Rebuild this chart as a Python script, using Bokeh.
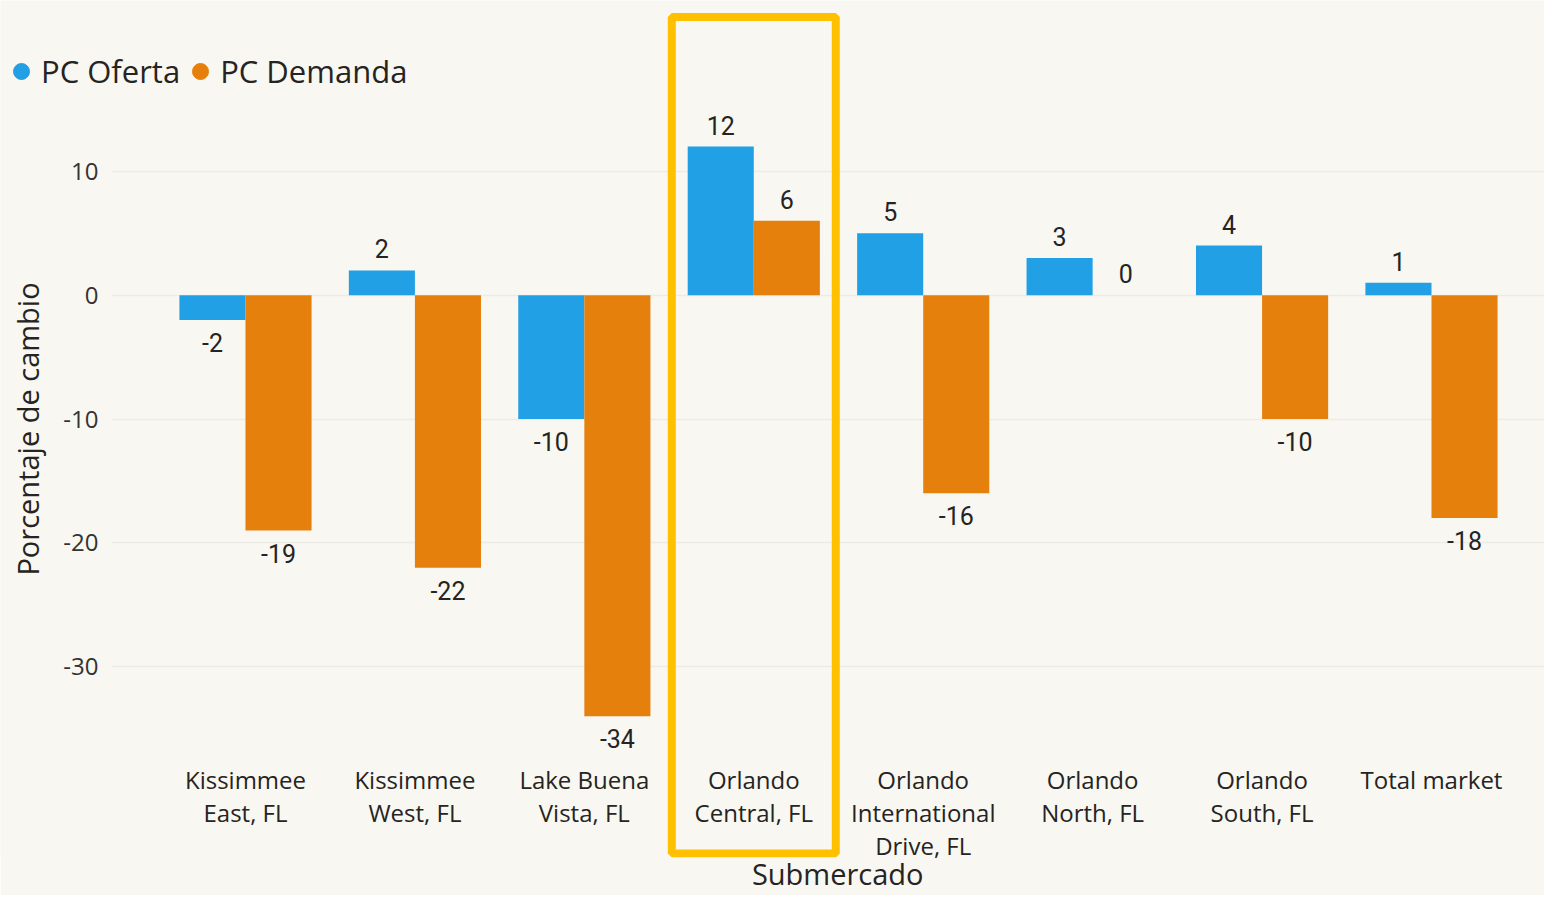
from bokeh.plotting import figure
from bokeh.models import (ColumnDataSource, Range1d, FixedTicker, LabelSet,
                          BoxAnnotation, Legend, LegendItem, PrintfTickFormatter, Grid)
from bokeh.core.properties import value
from bokeh.transform import dodge
from bokeh.embed import file_html
from bokeh.resources import INLINE

# ---------------- data ----------------
categories = ["Kissimmee\nEast, FL", "Kissimmee\nWest, FL", "Lake Buena\nVista, FL",
              "Orlando\nCentral, FL", "Orlando\nInternational\nDrive, FL",
              "Orlando\nNorth, FL", "Orlando\nSouth, FL", "Total market"]
oferta = [-2, 2, -10, 12, 5, 3, 4, 1]
demanda = [-19, -22, -34, 6, -16, 0, -10, -18]
series = ["PC Oferta", "PC Demanda"]
y_ticks = [-30, -20, -10, 0, 10]
x_title = "Submercado"
y_title = "Porcentaje de cambio"
highlight = "Orlando\nCentral, FL"

# ---------------- styles ----------------
BLUE = "#22A0E6"
ORANGE = "#E6800C"
YELLOW = "#FFC000"
BG = "#F8F7F1"
FONT = "Open Sans"
NUMFONT = "Roboto"
TXT = "#252423"

idx = list(range(len(categories)))
src = ColumnDataSource(dict(
    x=idx, oferta=oferta, demanda=demanda,
    t_o=[str(v) for v in oferta], t_d=[str(v) for v in demanda],
    b_o=["bottom" if v >= 0 else "top" for v in oferta],
    b_d=["bottom" if v >= 0 else "top" for v in demanda],
    off_o=[12 if v >= 0 else -13 for v in oferta],
    off_d=[12 if v >= 0 else -13 for v in demanda],
))

X0, X1 = -1.446, 7.667
p = figure(width=1544, height=895, output_backend="svg", toolbar_location=None,
           x_range=Range1d(X0, X1), y_range=Range1d(-45.40, 23.79),
           min_border_left=0, min_border_right=0, min_border_top=0,
           min_border_bottom=37)
p.background_fill_color = BG
p.border_fill_color = BG
p.outline_line_color = None

W = 0.39
p.vbar(x=dodge("x", -W / 2, range=p.x_range), top="oferta", bottom=0, width=W,
       source=src, fill_color=BLUE, line_color=None)
p.vbar(x=dodge("x", W / 2, range=p.x_range), top="demanda", bottom=0, width=W,
       source=src, fill_color=ORANGE, line_color=None)

for col, txt, base, off, sgn in [("oferta", "t_o", "b_o", "off_o", -1),
                                 ("demanda", "t_d", "b_d", "off_d", 1)]:
    ls = LabelSet(x=dodge("x", sgn * W / 2, range=p.x_range), y=col, text=txt,
                  source=src, y_offset={"field": off},
                  text_baseline={"field": base}, text_align="center",
                  text_font=value(NUMFONT), text_font_size="25px", text_color=TXT)
    p.add_layout(ls)

# highlight box
hi = categories.index(highlight)
p.add_layout(BoxAnnotation(left=hi - 0.484, right=hi + 0.484, top=22.46, bottom=-45.08,
                           fill_alpha=0, line_color=YELLOW, line_alpha=1, line_width=8))

# x axis
p.xaxis.ticker = FixedTicker(ticks=idx)
p.xaxis.major_label_overrides = {i: c for i, c in zip(idx, categories)}
p.xaxis.axis_line_color = None
p.xaxis.major_tick_line_color = None
p.xaxis.minor_tick_line_color = None
p.xaxis.major_label_text_font = FONT
p.xaxis.major_label_text_font_size = "24px"
p.xaxis.major_label_text_color = TXT
p.xaxis.major_label_text_line_height = 1.0
p.xaxis.major_label_standoff = -101
# the title sits centred on the plotting area (which starts at the y-gridlines),
# so it is pushed right with leading em/en spaces
p.xaxis.axis_label = "\u2003\u2003\u2003\u2003\u2002" + x_title
p.xaxis.axis_label_text_font = FONT
p.xaxis.axis_label_text_font_style = "normal"
p.xaxis.axis_label_text_font_size = "29px"
p.xaxis.axis_label_text_color = TXT
p.xaxis.axis_label_standoff = -11

# y axis
p.yaxis.ticker = FixedTicker(ticks=y_ticks)
p.yaxis.formatter = PrintfTickFormatter(format="%d")
p.yaxis.axis_line_color = None
p.yaxis.major_tick_line_color = None
p.yaxis.minor_tick_line_color = None
p.yaxis.major_label_text_font = FONT
p.yaxis.major_label_text_font_size = "24px"
p.yaxis.major_label_text_color = "#333333"
p.yaxis.major_label_standoff = -104
p.yaxis.axis_label = y_title
p.yaxis.axis_label_text_font = FONT
p.yaxis.axis_label_text_font_style = "normal"
p.yaxis.axis_label_text_font_size = "29px"
p.yaxis.axis_label_text_color = TXT
p.yaxis.axis_label_standoff = 13

p.xgrid.grid_line_color = None
p.ygrid.grid_line_color = "#ECEBE6"
p.ygrid.grid_line_width = 1.5
if "cross_bounds" in Grid.properties():
    p.ygrid.cross_bounds = (-0.791, X1)

# legend (marker renderers without visible points so the legend shows circles)
nan = float("nan")
r1 = p.scatter(x=[nan], y=[nan], marker="circle", size=17, color=BLUE)
r2 = p.scatter(x=[nan], y=[nan], marker="circle", size=17, color=ORANGE)
legend = Legend(items=[LegendItem(label=series[0], renderers=[r1]),
                       LegendItem(label=series[1], renderers=[r2])],
                orientation="horizontal", location=(1, 765),
                glyph_width=40, glyph_height=40, label_standoff=0, spacing=0,
                padding=0, margin=0, background_fill_alpha=0, border_line_alpha=0,
                label_text_font=FONT, label_text_font_size="31px",
                label_text_color=TXT, label_height=40)
p.add_layout(legend)

html = file_html(p, INLINE)
html = html.replace("<body>", '<body style="background:%s">' % BG, 1)
open("out.html", "w").write(html)
